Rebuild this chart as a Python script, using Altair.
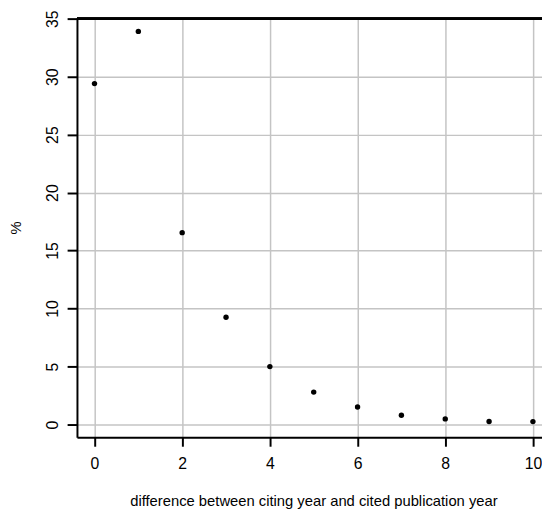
import altair as alt
import pandas as pd

# data
lag_years = [0, 1, 2, 3, 4, 5, 6, 7, 8, 9, 10]
percent = [29.4, 33.9, 16.55, 9.25, 5.0, 2.8, 1.52, 0.8, 0.49, 0.27, 0.26]
x_ticks = [0, 2, 4, 6, 8, 10]
y_ticks = [0, 5, 10, 15, 20, 25, 30, 35]

df = pd.DataFrame({"lag": lag_years, "pct": percent})

FONT = "Liberation Sans"

x_scale = alt.Scale(domain=[-0.4, 10.207], nice=False, zero=False)
y_scale = alt.Scale(domain=[-1.1, 35], nice=False, zero=False)

points = alt.Chart(df).mark_circle(size=30, color="black", opacity=1).encode(
    x=alt.X(
        "lag:Q",
        scale=x_scale,
        axis=alt.Axis(
            values=x_ticks,
            title="difference between citing year and cited publication year",
            titleX=240,
            titleY=69,
            titleAlign="center",
            titleBaseline="alphabetic",
            labelBaseline="alphabetic",
            labelPadding=23,
            tickSize=9,
        ),
    ),
    y=alt.Y(
        "pct:Q",
        scale=y_scale,
        axis=alt.Axis(
            values=y_ticks,
            title="%",
            titleAngle=270,
            titleX=-62,
            titleY=212,
            titleAlign="center",
            titleBaseline="middle",
            labelAngle=270,
            labelAlign="center",
            labelBaseline="alphabetic",
            labelPadding=10,
            tickSize=10,
        ),
    ),
)

top_border = alt.Chart(df).mark_rule(color="black", strokeWidth=2).encode(
    y=alt.datum(35, scale=y_scale)
)

chart = (
    alt.layer(points, top_border)
    .properties(
        width=472,
        height=425,
        autosize=alt.AutoSizeParams(type="none"),
        padding={"left": 70, "top": 7, "right": 0, "bottom": 74},
    )
    .configure_view(stroke=None)
    .configure_axis(
        labelFont=FONT,
        titleFont=FONT,
        labelFontSize=16,
        titleFontSize=15,
        labelColor="black",
        titleColor="black",
        titleFontWeight="normal",
        domainColor="black",
        domainWidth=2,
        tickColor="black",
        tickWidth=2,
        gridColor="#c4c4c4",
        gridWidth=1.5,
        labelFlush=False,
        labelOverlap=False,
    )
)

chart.save("out.html", embed_options={"renderer": "svg", "actions": False})
